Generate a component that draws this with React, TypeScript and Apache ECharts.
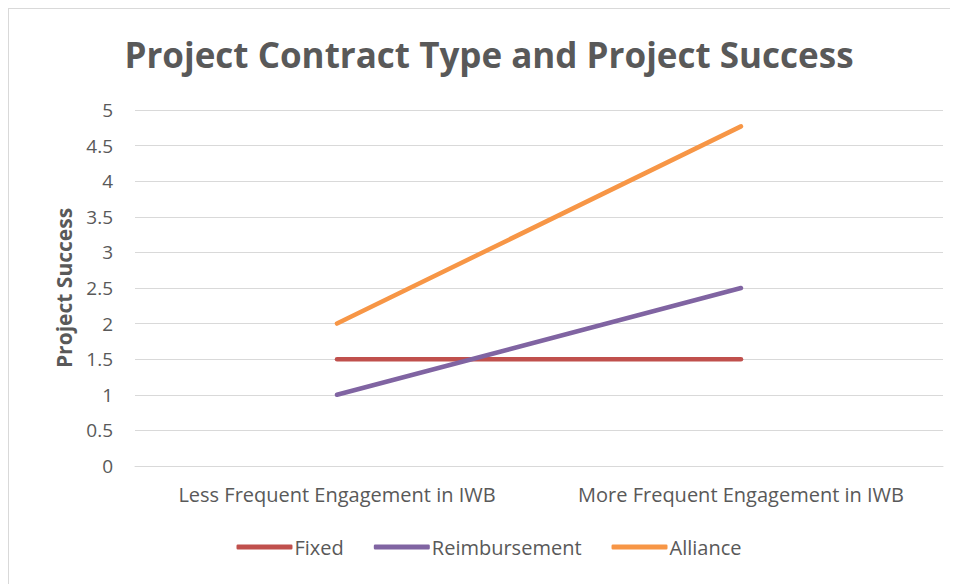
import React, { useEffect, useRef } from "react";
import * as echarts from "echarts";

const categories = ["Less Frequent Engagement in IWB", "More Frequent Engagement in IWB"];
const fixedValues = [1.5, 1.5];
const reimbursementValues = [1, 2.5];
const allianceValues = [2, 4.77];
const seriesNames = ["Fixed", "Reimbursement", "Alliance"];
const seriesColors = ["#C0504D", "#8064A2", "#F79646"];

export default function App() {
  const ref = useRef<HTMLDivElement>(null);
  useEffect(() => {
    if (!ref.current) return;
    const chart = echarts.init(ref.current, null, { renderer: "svg" });
    const font = "Open Sans, Noto Sans, sans-serif";
    const dataSets = [fixedValues, reimbursementValues, allianceValues];
    chart.setOption({
      animation: false,
      backgroundColor: "#ffffff",
      title: {
        text: "Project Contract Type and Project Success",
        left: "center",
        top: 23,
        textStyle: { fontFamily: font, fontSize: 35, fontWeight: "bold", color: "#595959" },
      },
      grid: { left: 126, right: 26, top: 101, bottom: 133 },
      legend: {
        bottom: 37,
        left: "center",
        itemWidth: 56,
        itemHeight: 5,
        itemGap: 30,
        icon: "roundRect",
        textStyle: { fontFamily: font, fontSize: 20, color: "#595959", padding: [0, 0, 0, -3] },
        data: seriesNames,
      },
      xAxis: {
        type: "category",
        data: categories,
        boundaryGap: true,
        axisLine: { show: true, lineStyle: { color: "#d9d9d9", width: 1 } },
        axisTick: { show: false },
        axisLabel: { fontFamily: font, fontSize: 20, color: "#595959", margin: 18, interval: 0, hideOverlap: false },
      },
      yAxis: {
        type: "value",
        min: 0,
        max: 5,
        interval: 0.5,
        name: "Project Success",
        nameLocation: "middle",
        nameGap: 61,
        nameTextStyle: { fontFamily: font, fontSize: 21, fontWeight: "bold", color: "#595959" },
        axisLine: { show: false },
        axisTick: { show: false },
        splitLine: { lineStyle: { color: "#d9d9d9", width: 1 } },
        axisLabel: { fontFamily: font, fontSize: 19, color: "#595959", margin: 22 },
      },
      series: seriesNames.map((name, i) => ({
        name,
        type: "line",
        data: dataSets[i],
        symbol: "none",
        color: seriesColors[i],
        lineStyle: { width: 4.5, cap: "round", color: seriesColors[i] },
      })),
    });
    return () => chart.dispose();
  }, []);
  return (
    <div
      ref={ref}
      style={{ width: 960, height: 590, border: "1px solid #d9d9d9", boxSizing: "content-box" }}
    />
  );
}
